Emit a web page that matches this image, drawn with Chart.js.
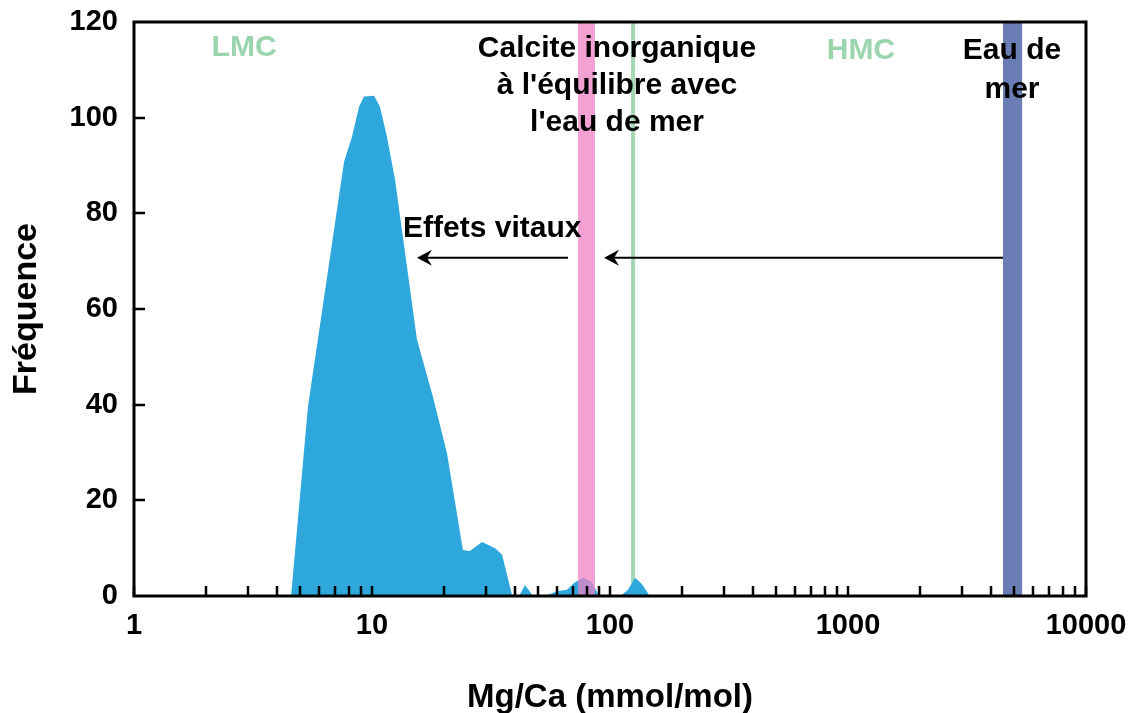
<!DOCTYPE html>
<html>
<head>
<meta charset="utf-8">
<script src="https://cdn.jsdelivr.net/npm/chart.js@4.4.1/dist/chart.umd.min.js"></script>
<style>
  body { margin: 0; background: #fff; }
  #wrap { width: 1139px; height: 713px; }
</style>
</head>
<body>
<div id="wrap"><canvas id="chart" width="1139" height="713"></canvas></div>
<script>
// Mg/Ca (mmol/mol) vs frequency
const mgca = [4.57, 5.38, 7.63, 8.24, 8.82, 9.25, 10.2, 10.8, 11.56, 12.5, 15.45, 18.04,
  20.65, 24.1, 25.8, 29.0, 32.9, 35.2, 38.7, 41.5, 43.9, 47.5, 53.3, 59.8, 65.9, 70.6,
  77.0, 84.0, 89.1, 95.3, 112, 119, 127.4, 136, 147];
const freq = [0, 39.5, 90.8, 96, 102.3, 104.4, 104.6, 102.3, 96, 87, 53.6, 41.6,
  29.9, 9.6, 9.4, 11.3, 10, 8.6, 0.3, 0, 2.3, 0, 0, 1.0, 1.3, 2.7,
  3.8, 2.9, 0.4, 0, 0.2, 1.3, 3.8, 2.5, 0];

// reference ranges
const inorgBand = [73.4, 86.5];   // calcite inorganique
const hmcLine = 125;
const seawaterBand = [4480, 5390];

const xTickValues = [];
for (let d = 1; d < 10000; d *= 10) {
  for (let m = 1; m < 10; m++) xTickValues.push(m * d);
}
xTickValues.push(10000);
const xLabels = [1, 10, 100, 1000, 10000];

const FONT = "'Liberation Sans', Arial, sans-serif";

// annotations: [text, x value, y value, colour, align]
const notes = [
  ["LMC", 2.9, 115.1, "#9BD5AE", "center"],
  ["HMC", 1134, 114.6, "#9BD5AE", "center"],
  ["Calcite inorganique", 107, 114.9, "#000", "center"],
  ["à l'équilibre avec", 107, 107.1, "#000", "center"],
  ["l'eau de mer", 107, 99.4, "#000", "center"],
  ["Eau de", 4887, 114.4, "#000", "center"],
  ["mer", 4887, 106.4, "#000", "center"],
  ["Effets vitaux", 13.5, 77.2, "#000", "left"],
];
// arrows: [from x, to x, y]
const arrows = [
  [66.6, 15.45, 70.7],
  [4480, 94.4, 70.7],
];

function band(ctx, area, xs, lo, hi, color) {
  const a = xs.getPixelForValue(lo);
  const b = xs.getPixelForValue(hi);
  ctx.fillStyle = color;
  ctx.fillRect(a, area.top, b - a, area.bottom - area.top);
}

const decor = {
  id: "decor",
  beforeDatasetsDraw(chart) {
    const { ctx, chartArea: area, scales } = chart;
    ctx.save();
    band(ctx, area, scales.x, seawaterBand[0], seawaterBand[1], "#6A7DB4");
    const gx = scales.x.getPixelForValue(hmcLine);
    ctx.fillStyle = "#A4D8B2";
    ctx.fillRect(gx - 2, area.top, 4, area.bottom - area.top);
    ctx.restore();
  },
  afterDatasetsDraw(chart) {
    const { ctx, chartArea: area, scales } = chart;
    const xs = scales.x, ys = scales.y;
    ctx.save();
    band(ctx, area, xs, inorgBand[0], inorgBand[1], "rgba(238,130,195,0.75)");

    // frame
    ctx.strokeStyle = "#000";
    ctx.lineWidth = 3;
    ctx.strokeRect(area.left, area.top, area.right - area.left, area.bottom - area.top);

    // inward ticks
    ctx.lineWidth = 2.5;
    ctx.beginPath();
    xTickValues.forEach((v) => {
      const px = Math.round(xs.getPixelForValue(v));
      ctx.moveTo(px, area.bottom);
      ctx.lineTo(px, area.bottom - 10);
    });
    for (let v = 20; v < 120; v += 20) {
      const py = Math.round(ys.getPixelForValue(v));
      ctx.moveTo(area.left, py);
      ctx.lineTo(area.left + 11, py);
    }
    ctx.stroke();

    // texts
    ctx.font = "bold 30px " + FONT;
    ctx.textBaseline = "alphabetic";
    notes.forEach(([t, x, y, c, al]) => {
      ctx.fillStyle = c;
      ctx.textAlign = al;
      ctx.fillText(t, xs.getPixelForValue(x), ys.getPixelForValue(y) + 10.7);
    });

    // arrows
    ctx.strokeStyle = "#000";
    ctx.fillStyle = "#000";
    ctx.lineWidth = 2;
    arrows.forEach(([from, to, y]) => {
      const x1 = xs.getPixelForValue(from);
      const x2 = xs.getPixelForValue(to);
      const py = ys.getPixelForValue(y);
      ctx.beginPath();
      ctx.moveTo(x1, py);
      ctx.lineTo(x2 + 6, py);
      ctx.stroke();
      ctx.beginPath();
      ctx.moveTo(x2, py);
      ctx.lineTo(x2 + 15, py - 8);
      ctx.lineTo(x2 + 10, py);
      ctx.lineTo(x2 + 15, py + 8);
      ctx.closePath();
      ctx.fill();
    });
    ctx.restore();
  },
};

new Chart(document.getElementById("chart"), {
  type: "line",
  data: {
    datasets: [{
      data: mgca.map((x, i) => ({ x: x, y: freq[i] })),
      fill: "origin",
      backgroundColor: "#2EA8DC",
      borderWidth: 0,
      pointRadius: 0,
      tension: 0,
    }],
  },
  options: {
    responsive: false,
    animation: false,
    devicePixelRatio: 1,
    layout: { padding: { top: 22, right: 53, left: 0, bottom: 0 } },
    plugins: { legend: { display: false }, tooltip: { enabled: false } },
    scales: {
      x: {
        type: "logarithmic",
        min: 1,
        max: 10000,
        grid: { display: false, drawTicks: false },
        border: { display: false },
        afterBuildTicks(s) {
          s.ticks = xTickValues.map((v) => ({ value: v }));
        },
        afterFit(s) {
          s.height = 117;
          s.paddingLeft = 0;
          s.paddingRight = 0;
        },
        ticks: {
          autoSkip: false,
          maxRotation: 0,
          padding: 13,
          color: "#000",
          font: { family: FONT, size: 29, weight: "bold" },
          callback: (v) => (xLabels.includes(v) ? String(v) : ""),
        },
        title: {
          display: true,
          text: "Mg/Ca (mmol/mol)",
          color: "#000",
          font: { family: FONT, size: 33, weight: "bold", lineHeight: 0.9 },
          padding: { top: 0, bottom: 0 },
        },
      },
      y: {
        min: 0,
        max: 120,
        grid: { display: false, drawTicks: false },
        border: { display: false },
        afterFit(s) {
          s.width = 134;
          s.paddingTop = 0;
          s.paddingBottom = 0;
        },
        ticks: {
          stepSize: 20,
          padding: 16,
          color: "#000",
          font: { family: FONT, size: 29, weight: "bold" },
        },
        title: {
          display: true,
          text: "Fréquence",
          color: "#000",
          font: { family: FONT, size: 34, weight: "bold", lineHeight: 1.0 },
          padding: { top: 10, bottom: 0 },
        },
      },
    },
  },
  plugins: [decor],
});
</script>
</body>
</html>
